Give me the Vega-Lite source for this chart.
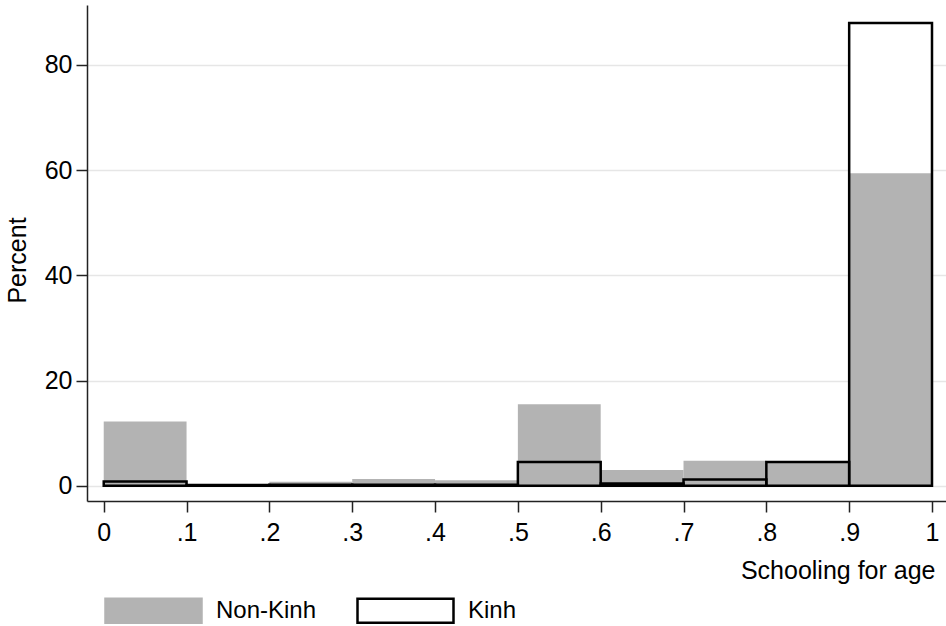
{
  "$schema": "https://vega.github.io/schema/vega-lite/v6.json",
  "width": 859,
  "height": 496,
  "autosize": {"type": "none"},
  "padding": {"left": 87, "top": 5, "right": 0, "bottom": 125},
  "background": "white",
  "config": {
    "font": "Liberation Sans",
    "view": {"stroke": null},
    "axis": {
      "labelFont": "Liberation Sans",
      "titleFont": "Liberation Sans",
      "labelFontSize": 25,
      "titleFontSize": 25,
      "labelColor": "black",
      "titleColor": "black",
      "titleFontWeight": "normal",
      "domainColor": "#222222",
      "tickColor": "#222222",
      "domainWidth": 1.5,
      "tickWidth": 1.5,
      "tickSize": 11
    },
    "legend": {
      "labelFont": "Liberation Sans",
      "labelFontSize": 24,
      "labelColor": "black"
    }
  },
  "data": {
    "values": [
      {"group": "Non-Kinh", "x0": 0.0, "x1": 0.1, "pct": 12.2},
      {"group": "Non-Kinh", "x0": 0.1, "x1": 0.2, "pct": 0.05},
      {"group": "Non-Kinh", "x0": 0.2, "x1": 0.3, "pct": 0.76},
      {"group": "Non-Kinh", "x0": 0.3, "x1": 0.4, "pct": 1.27},
      {"group": "Non-Kinh", "x0": 0.4, "x1": 0.5, "pct": 1.03},
      {"group": "Non-Kinh", "x0": 0.5, "x1": 0.6, "pct": 15.5},
      {"group": "Non-Kinh", "x0": 0.6, "x1": 0.7, "pct": 3.0},
      {"group": "Non-Kinh", "x0": 0.7, "x1": 0.8, "pct": 4.75},
      {"group": "Non-Kinh", "x0": 0.8, "x1": 0.9, "pct": 4.5},
      {"group": "Non-Kinh", "x0": 0.9, "x1": 1.0, "pct": 59.4},
      {"group": "Kinh", "x0": 0.0, "x1": 0.1, "pct": 0.8},
      {"group": "Kinh", "x0": 0.1, "x1": 0.2, "pct": 0.15},
      {"group": "Kinh", "x0": 0.2, "x1": 0.3, "pct": 0.2},
      {"group": "Kinh", "x0": 0.3, "x1": 0.4, "pct": 0.2},
      {"group": "Kinh", "x0": 0.4, "x1": 0.5, "pct": 0.2},
      {"group": "Kinh", "x0": 0.5, "x1": 0.6, "pct": 4.5},
      {"group": "Kinh", "x0": 0.6, "x1": 0.7, "pct": 0.4},
      {"group": "Kinh", "x0": 0.7, "x1": 0.8, "pct": 1.2},
      {"group": "Kinh", "x0": 0.8, "x1": 0.9, "pct": 4.5},
      {"group": "Kinh", "x0": 0.9, "x1": 1.0, "pct": 88.0}
    ]
  },
  "encoding": {
    "x": {
      "field": "x0",
      "type": "quantitative",
      "scale": {"domain": [-0.0202, 1.0169], "nice": false, "zero": false},
      "axis": {
        "values": [0, 0.1, 0.2, 0.3, 0.4, 0.5, 0.6, 0.7, 0.8, 0.9, 1],
        "labelExpr": "datum.value == 0 ? '0' : datum.value == 1 ? '1' : replace(format(datum.value, '.1f'), '0.', '.')",
        "grid": false,
        "labelPadding": 8,
        "labelFlush": false,
        "labelOverlap": false,
        "title": "Schooling for age",
        "titleAlign": "right",
        "titleAnchor": null,
        "titleBaseline": "alphabetic",
        "titleX": 848,
        "titleY": 77
      }
    },
    "x2": {"field": "x1"},
    "y": {
      "field": "pct",
      "type": "quantitative",
      "scale": {"domain": [-2.91, 91.4], "nice": false, "zero": false},
      "axis": {
        "values": [0, 20, 40, 60, 80],
        "format": "d",
        "grid": true,
        "gridColor": "#e6e6e6",
        "gridWidth": 1.5,
        "labelPadding": 4,
        "title": "Percent",
        "titleAngle": -90,
        "titleAlign": "center",
        "titleBaseline": "alphabetic",
        "titleX": -62,
        "titleY": 255
      }
    },
    "y2": {"datum": 0}
  },
  "layer": [
    {
      "transform": [{"filter": "datum.group == 'Kinh'"}],
      "mark": {"type": "rect", "strokeWidth": 0},
      "encoding": {
        "fill": {
          "field": "group",
          "type": "nominal",
          "scale": {"domain": ["Non-Kinh", "Kinh"], "range": ["#b3b3b3", "#ffffff"]},
          "legend": {
            "orient": "none",
            "legendX": 17,
            "legendY": 580,
            "direction": "horizontal",
            "title": null,
            "padding": 0,
            "symbolType": "M-1,-0.5L3,-0.5L3,0.5L-1,0.5Z",
            "symbolSize": 2304,
            "symbolStrokeWidth": 2.5,
            "symbolOpacity": 1,
            "labelOffset": 61,
            "columnPadding": 35,
            "labelBaseline": "middle"
          }
        }
      }
    },
    {
      "transform": [{"filter": "datum.group == 'Non-Kinh'"}],
      "mark": {"type": "rect", "strokeWidth": 0},
      "encoding": {
        "fill": {"field": "group", "type": "nominal"}
      }
    },
    {
      "transform": [{"filter": "datum.group == 'Kinh'"}],
      "mark": {"type": "rect", "filled": false, "strokeWidth": 2.5, "opacity": 1},
      "encoding": {
        "stroke": {
          "field": "group",
          "type": "nominal",
          "scale": {"domain": ["Non-Kinh", "Kinh"], "range": ["#b3b3b3", "#000000"]},
          "legend": {
            "orient": "none",
            "legendX": 17,
            "legendY": 580,
            "direction": "horizontal",
            "title": null,
            "padding": 0,
            "symbolType": "M-1,-0.5L3,-0.5L3,0.5L-1,0.5Z",
            "symbolSize": 2304,
            "symbolStrokeWidth": 2.5,
            "symbolOpacity": 1,
            "labelOffset": 61,
            "columnPadding": 35,
            "labelBaseline": "middle"
          }
        }
      }
    }
  ]
}
